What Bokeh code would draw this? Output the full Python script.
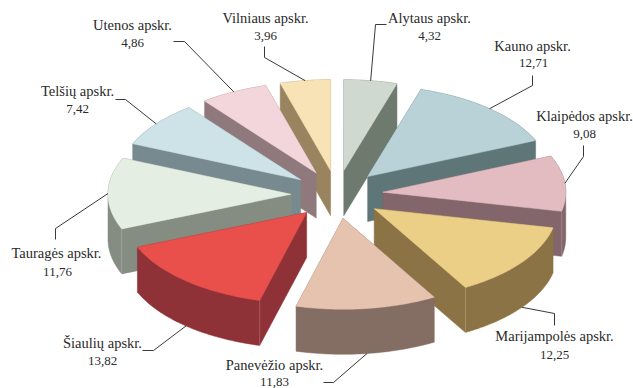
import math
from bokeh.plotting import figure
from bokeh.embed import file_html
from bokeh.resources import INLINE
from bokeh.core.properties import value

# ---- data ----
regions = ["Alytaus apskr.", "Kauno apskr.", "Klaipėdos apskr.", "Marijampolės apskr.",
           "Panevėžio apskr.", "Šiaulių apskr.", "Tauragės apskr.", "Telšių apskr.",
           "Utenos apskr.", "Vilniaus apskr."]
shares = [4.32, 12.71, 9.08, 12.25, 11.83, 13.82, 11.76, 7.42, 4.86, 3.96]
share_labels = ["4,32", "12,71", "9,08", "12,25", "11,83", "13,82", "11,76", "7,42", "4,86", "3,96"]

# ---- style ----
top_colors = ["#d0d9cf", "#b8d2d8", "#e3bcc1", "#ebcf87", "#e5c3af",
              "#e9504b", "#e5eee3", "#cde3e8", "#f3d6db", "#f7e3b5"]
wall_colors = ["#6f7a6e", "#5f7679", "#83666b", "#8b7345", "#846d62",
               "#8e3237", "#858d82", "#778a8f", "#90797d", "#9a845f"]
draw_order = [0, 9, 1, 8, 7, 2, 6, 3, 5, 4]

# ---- layout (page pixels) ----
W, H = 633, 388
CX, CY = 336.5, 194.0
RX, RY = 183.0, 91.0
DEPTH = 45.0
EX, EY = 46.0, 24.0
# small drawing offset of each slice's closing edge, degrees
edge_nudge = [0, 0, 0, 0, -1.5, -2.8, -3.1, -3.1, -0.5, 0]
name_xy = [(429, 17), (532, 45), (584, 115), (554, 335), (274, 364),
           (102, 342), (56, 252), (77, 90), (132, 24), (265, 17)]
value_xy = [(429, 35), (533, 62), (584, 133), (554, 354), (274, 381),
            (102, 360), (57, 271), (77, 108), (132, 42), (265, 35)]
elbows = [[(375, 24), (386, 24)], [(532, 85), (532, 75)], [(583, 156), (583, 145)],
          [(554, 313), (554, 325)], [(333, 382), (323, 382)], [(153, 350), (142, 350)],
          [(55, 228), (55, 239)], [(125, 99), (115, 99)], [(184, 41), (173, 41)],
          [(264, 57), (264, 46)]]


def hull(points):
    pts = sorted(set(points))
    def half(seq):
        out = []
        for q in seq:
            while len(out) >= 2 and ((out[-1][0]-out[-2][0])*(q[1]-out[-2][1])
                                     - (out[-1][1]-out[-2][1])*(q[0]-out[-2][0])) <= 0:
                out.pop()
            out.append(q)
        return out[:-1]
    return half(pts) + half(pts[::-1])


total = sum(shares)
p = figure(width=W, height=H, x_range=(0, W), y_range=(H, 0), output_backend="svg",
           toolbar_location=None, min_border=0, outline_line_color=None,
           background_fill_color="white", border_fill_color="white")
p.xaxis.visible = False
p.yaxis.visible = False
p.xgrid.visible = False
p.ygrid.visible = False

edges, cum = [0.0], 0.0
for s, nudge in zip(shares, edge_nudge):
    cum += s
    edges.append(cum / total * 2 * math.pi + math.radians(nudge))

for i in draw_order:
    a0, a1 = edges[i], edges[i + 1]
    mid = (a0 + a1) / 2
    ax = CX + EX * math.sin(mid)
    ay = CY - EY * math.cos(mid)
    n = 40
    rim = [(ax + RX * math.sin(a0 + (a1 - a0) * k / n),
            ay - RY * math.cos(a0 + (a1 - a0) * k / n)) for k in range(n + 1)]
    top = [(ax, ay)] + rim
    wall = hull(top + [(x, y + DEPTH) for x, y in top])
    p.patch([q[0] for q in wall], [q[1] for q in wall], fill_color=wall_colors[i],
            line_color=wall_colors[i], line_width=0.5)
    corners = []
    if math.pi / 2 < a1 < math.pi:
        corners.append(rim[-1])
    if math.pi < a0 < 3 * math.pi / 2:
        corners.append(rim[0])
    for cx, cy in corners:
        p.line([cx, cx], [cy, cy + DEPTH], line_color="white", line_alpha=0.25, line_width=0.8)
    p.patch([q[0] for q in top], [q[1] for q in top], fill_color=top_colors[i],
            line_color=top_colors[i], line_width=0.5)

for i in range(len(shares)):
    mid = (edges[i] + edges[i + 1]) / 2
    rx = CX + EX * math.sin(mid) + RX * math.sin(mid)
    ry = CY - EY * math.cos(mid) - RY * math.cos(mid)
    if math.cos(mid) < 0:
        ry += DEPTH
    path = [(rx, ry)] + elbows[i]
    p.line([q[0] for q in path], [q[1] for q in path], line_color="#222222", line_width=0.9)

common = dict(text_font=value("Liberation Serif"), text_color="#2a2a2a",
              text_align="center", text_baseline="middle")
p.text([q[0] for q in name_xy], [q[1] for q in name_xy], text=regions,
       text_font_size="14.5px", **common)
p.text([q[0] for q in value_xy], [q[1] for q in value_xy], text=share_labels,
       text_font_size="13px", **common)

open("out.html", "w").write(file_html(p, INLINE))
